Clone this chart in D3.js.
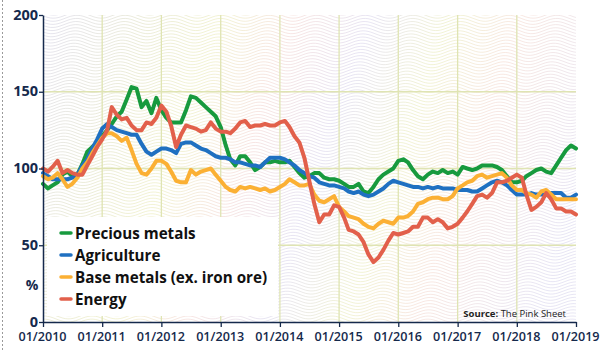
<!DOCTYPE html>
<html><head><meta charset="utf-8">
<script src="https://cdn.jsdelivr.net/npm/d3@7/dist/d3.min.js"></script>
<style>
html,body{margin:0;padding:0;background:#fff;}
svg{display:block;}
</style></head>
<body><svg id="c" width="600" height="351"></svg>
<script>
// ---- data (monthly, Jan 2010 .. Jan 2019) ----
const startYear = 2010;
const preciousMetals = [90,87,89,91,96,98,95,96,103,111,114,117,121,125,129,134,137,145,153,152,140,144,136,146,138,133,130,130,130,138,147,146,143,140,137,134,127,115,106,102,108,108,104,99,101,104,104,105,104,104,105,101,97,94,95,97,97,94,93,93,92,90,88,88,90,85,84,88,93,96,98,100,105,106,104,99,95,93,96,98,97,99,97,98,96,101,100,99,100,102,102,102,101,99,95,91,91,92,95,97,99,100,98,97,102,107,112,115,113];
const agriculture = [97,95,93,93,93,93,94,96,102,106,113,119,126,129,127,125,124,123,122,122,116,111,109,111,113,113,112,110,116,117,117,115,113,112,110,108,107,107,106,104,104,103,102,102,101,104,107,107,107,106,104,102,99,97,95,94,91,90,89,89,88,87,85,84,85,83,82,83,85,87,90,92,91,90,89,88,88,87,88,87,88,87,87,87,86,86,86,85,85,87,89,91,92,91,89,86,83,83,83,84,83,83,83,84,84,84,81,81,83];
const baseMetals = [95,93,94,97,93,88,90,94,100,104,110,115,120,123,123,121,118,120,112,103,97,96,100,105,105,103,98,92,91,91,99,96,98,99,100,96,92,88,86,85,88,87,88,87,86,87,85,86,88,90,93,91,89,89,90,83,79,78,80,82,75,72,69,68,67,64,62,61,64,66,65,64,68,68,69,72,77,78,80,81,81,80,80,82,87,89,91,92,95,96,94,95,96,97,94,89,86,86,84,83,81,85,86,83,80,80,80,80,80];
const energy = [100,98,101,105,97,99,97,96,96,102,108,114,119,125,140,135,132,133,128,125,125,130,129,133,141,137,128,114,122,128,127,126,124,125,130,126,124,124,123,126,130,131,127,128,128,129,128,128,130,131,127,121,117,107,92,77,65,70,70,76,75,68,60,59,57,52,44,39,42,47,53,58,57,58,59,62,62,68,68,65,67,65,61,62,64,68,72,77,82,83,81,84,91,91,92,94,96,94,83,73,75,78,84,80,74,74,72,72,70];
const seriesNames = ["Precious metals","Agriculture","Base metals (ex. iron ore)","Energy"];
const seriesColors = ["#179a3e","#1f70c1","#fbb034","#e2604b"];
const yTicks = [0,50,100,150,200];
const sourceLabel = "Source:";
const sourceText = " The Pink Sheet";

const allSeries = [preciousMetals, agriculture, baseMetals, energy];

// ---- layout ----
const svg = d3.select("#c");
const L = 43, R = 576, T = 15, B = 322;
const x = d3.scaleTime().domain([new Date(startYear,0,1), new Date(startYear+9,0,1)]).range([L,R]);
const y = d3.scaleLinear().domain([0,200]).range([B,T]);
const navy = "#15294c";

// left dotted border
svg.append("line").attr("x1",2.5).attr("x2",2.5).attr("y1",0).attr("y2",351)
  .attr("stroke","#9a9a9a").attr("stroke-width",1).attr("stroke-dasharray","2,2");

// decorative wavy background
const defs = svg.append("defs");
const grad = defs.append("linearGradient").attr("id","wg").attr("gradientUnits","userSpaceOnUse")
  .attr("x1",L).attr("y1",T).attr("x2",R).attr("y2",B-120);
const gstops = [["0","#c9c6e0"],["0.18","#d8d9b0"],["0.3","#e6e6a8"],["0.42","#f0cbc6"],["0.55","#cfc9e6"],["0.68","#e4e6aa"],["0.8","#f1d0c4"],["1","#cfcbe8"]];
gstops.forEach(s=>grad.append("stop").attr("offset",s[0]).attr("stop-color",s[1]));
defs.append("clipPath").attr("id","pc").append("rect").attr("x",L).attr("y",T).attr("width",R-L).attr("height",B-T);
const bg = svg.append("g").attr("clip-path","url(#pc)");
const waveLine = d3.line().curve(d3.curveBasis);
for(let yy=T-6; yy<B+6; yy+=3.1){
  const pts=[];
  for(let xx=L-5; xx<=R+5; xx+=5){
    pts.push([xx, yy + 3.2*Math.sin((xx-L)/48*2*Math.PI + yy/70)]);
  }
  bg.append("path").attr("d",waveLine(pts)).attr("fill","none")
    .attr("stroke","url(#wg)").attr("stroke-width",0.8).attr("opacity",0.62);
}

// gridlines
const grid = svg.append("g");
x.ticks(d3.timeYear.every(1)).slice(1,-1).forEach(d=>{
  grid.append("line").attr("x1",x(d)).attr("x2",x(d)).attr("y1",T).attr("y2",B)
    .attr("stroke","#dfe4b3").attr("stroke-width",1.3);
});
[50,100,150].forEach(v=>{
  grid.append("line").attr("x1",L).attr("x2",R).attr("y1",y(v)).attr("y2",y(v))
    .attr("stroke","#dfe4b3").attr("stroke-width",1.3);
});

// lines
const line = d3.line().x((d,i)=>x(new Date(startYear,i,1))).y(d=>y(d)).curve(d3.curveLinear);
allSeries.forEach((s,k)=>{
  svg.append("path").datum(s).attr("d",line).attr("fill","none")
    .attr("stroke",seriesColors[k]).attr("stroke-width",4)
    .attr("stroke-linejoin","round").attr("stroke-linecap","round");
});

// legend
const lg = svg.append("g");
lg.append("rect").attr("x",47).attr("y",217).attr("width",231).attr("height",99).attr("fill","#fff");
seriesNames.forEach((n,k)=>{
  const cy = 233 + k*22;
  lg.append("line").attr("x1",61).attr("x2",71).attr("y1",cy).attr("y2",cy)
    .attr("stroke",seriesColors[k]).attr("stroke-width",3.5).attr("stroke-linecap","round");
  lg.append("text").attr("x",75).attr("y",cy+5.5).text(n)
    .attr("font-family","'Open Sans'").attr("font-weight",700).attr("font-size",15.2).attr("fill","#111");
});

// axes
const xAxis = d3.axisBottom(x).ticks(d3.timeYear.every(1)).tickFormat(d3.timeFormat("%m/%Y")).tickSize(5).tickSizeOuter(0);
const gx = svg.append("g").attr("transform",`translate(0,${B})`).call(xAxis);
gx.select(".domain").attr("stroke",navy).attr("stroke-width",1.5);
gx.selectAll(".tick line").attr("stroke",navy).attr("stroke-width",1.3);
gx.selectAll(".tick text").attr("font-family","'Open Sans'").attr("font-weight",600).attr("font-size",12.6)
  .attr("fill",navy).attr("dy","0.95em").attr("y",7).attr("x",-1);

const yAxis = d3.axisLeft(y).tickValues(yTicks).tickSize(4).tickSizeOuter(0);
const gy = svg.append("g").attr("transform",`translate(${L},0)`).call(yAxis);
gy.select(".domain").attr("stroke",navy).attr("stroke-width",1.5);
gy.selectAll(".tick line").attr("stroke",navy).attr("stroke-width",1.3);
gy.selectAll(".tick text").attr("font-family","'Open Sans'").attr("font-weight",700).attr("font-size",14.5)
  .attr("fill",navy).attr("x",-5).attr("dy","0.28em");

svg.append("text").attr("x",32).attr("y",290).attr("text-anchor","middle").text("%")
  .attr("font-family","'Open Sans'").attr("font-weight",700).attr("font-size",14).attr("fill",navy);

// source
const st = svg.append("text").attr("x",566).attr("y",317).attr("text-anchor","end")
  .attr("font-family","'Open Sans'").attr("font-size",9.5).attr("fill","#222");
st.append("tspan").attr("font-weight",700).text(sourceLabel);
st.append("tspan").text(sourceText);
</script>
</body></html>
